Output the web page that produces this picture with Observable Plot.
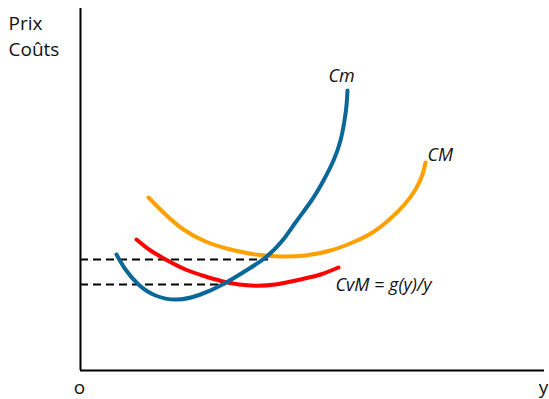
<!DOCTYPE html>
<html>
<head>
<meta charset="utf-8">
<script src="https://cdn.jsdelivr.net/npm/d3@7"></script>
<script src="https://cdn.jsdelivr.net/npm/@observablehq/plot@0.6"></script>
<style>
  html, body { margin: 0; padding: 0; background: #fff; }
  svg { display: block; }
</style>
</head>
<body>
<div id="chart"></div>
<script>
// Values in chart units (origin at the axes' corner)
const cmX  = [36, 45, 58, 75, 97, 120, 142, 164, 185, 202, 215, 231, 243, 253, 260, 264, 266, 267];
const cmY  = [116, 101, 86, 75, 71, 76, 86, 99, 113, 130, 148, 170, 190, 210, 230, 250, 265, 280];

const cMX = [68, 85, 103, 125, 150, 175, 200, 225, 250, 272, 292, 310, 324, 335, 342, 345];
const cMY = [173, 156, 141, 129, 121, 116, 114, 115, 120, 128, 138, 152, 166, 181, 196, 208];

const cvmX = [56, 70, 87, 105, 125, 147, 170, 195, 220, 240, 258];
const cvmY = [131, 120, 110, 101, 94, 88, 85, 86, 91, 96, 103];

// dashed reference levels and where they end
const dashLevels = [111, 86];
const dashEnds = [188, 145];

const axisXEnd = 464, axisYEnd = 362;

const labels = ["Prix", "Coûts", "o", "y"];
const labelX = [-72, -72, -1, 463];
const labelY = [341, 315, -23, -23];
const labelAnchor = ["start", "start", "middle", "middle"];

const curveLabels = ["Cm", "CM", "CvM = g(y)/y"];
const curveLabelX = [248, 347, 255];
const curveLabelY = [289, 210, 80];

const cm = cmX.map((x, i) => ({x, y: cmY[i]}));
const cM = cMX.map((x, i) => ({x, y: cMY[i]}));
const cvm = cvmX.map((x, i) => ({x, y: cvmY[i]}));
const dashes = dashLevels.map((y, i) => ({y, x2: dashEnds[i]}));
const lab = labels.map((t, i) => ({t, x: labelX[i], y: labelY[i], a: labelAnchor[i]}));
const clab = curveLabels.map((t, i) => ({t, x: curveLabelX[i], y: curveLabelY[i]}));

const chart = Plot.plot({
  width: 549,
  height: 399,
  margin: 0,
  x: {domain: [-80, 469], axis: null},
  y: {domain: [-29, 370], axis: null},
  style: {fontFamily: "'Open Sans', sans-serif", background: "#fff"},
  marks: [
    Plot.ruleX([0], {y1: 0, y2: axisYEnd, stroke: "#000", strokeWidth: 2}),
    Plot.ruleY([0], {x1: 0, x2: axisXEnd, stroke: "#000", strokeWidth: 2}),
    Plot.ruleY(dashes, {y: "y", x1: 0, x2: "x2", stroke: "#000", strokeWidth: 2, strokeDasharray: "8,5"}),
    Plot.line(cvm, {x: "x", y: "y", curve: "natural", stroke: "#ff0000", strokeWidth: 4}),
    Plot.line(cM, {x: "x", y: "y", curve: "natural", stroke: "#ffa000", strokeWidth: 4}),
    Plot.line(cm, {x: "x", y: "y", curve: "natural", stroke: "#0a6899", strokeWidth: 4}),
    Plot.text(lab.filter(d => d.a === "start"), {x: "x", y: "y", text: "t", textAnchor: "start", lineAnchor: "bottom", fontSize: 19, fill: "#111"}),
    Plot.text(lab.filter(d => d.a === "middle"), {x: "x", y: "y", text: "t", textAnchor: "middle", lineAnchor: "bottom", fontSize: 19, fill: "#111"}),
    Plot.text(clab, {x: "x", y: "y", text: "t", textAnchor: "start", lineAnchor: "bottom", fontSize: 18, fontStyle: "italic", fill: "#111"})
  ]
});
document.getElementById("chart").appendChild(chart);
</script>
</body>
</html>
